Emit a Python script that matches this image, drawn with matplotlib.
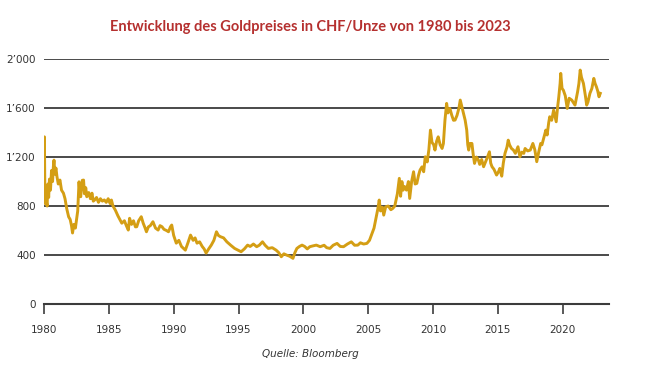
import matplotlib.pyplot as plt
from matplotlib.ticker import FuncFormatter

# Goldpreis CHF/Unze, Werte
years = [
    1980.00, 1980.03, 1980.06, 1980.09, 1980.13, 1980.18, 1980.24, 1980.30, 1980.36, 1980.42,
    1980.50, 1980.58, 1980.66, 1980.72, 1980.77, 1980.84, 1980.92, 1981.00, 1981.10, 1981.23,
    1981.35, 1981.50, 1981.62, 1981.75, 1981.90, 1982.02, 1982.12, 1982.20, 1982.30, 1982.42,
    1982.50, 1982.60, 1982.70, 1982.77, 1982.83, 1982.95, 1983.05, 1983.12, 1983.22, 1983.30,
    1983.45, 1983.58, 1983.70, 1983.80, 1983.90, 1984.05, 1984.20, 1984.35, 1984.50, 1984.65,
    1984.80, 1984.95, 1985.10, 1985.20, 1985.32, 1985.50, 1985.70, 1985.85, 1986.00, 1986.20,
    1986.35, 1986.50, 1986.60, 1986.75, 1986.90, 1987.05, 1987.15, 1987.30, 1987.50, 1987.65,
    1987.80, 1987.90, 1988.05, 1988.20, 1988.40, 1988.60, 1988.80, 1988.95, 1989.10, 1989.25,
    1989.45, 1989.60, 1989.75, 1989.85, 1990.00, 1990.20, 1990.40, 1990.60, 1990.90, 1991.10,
    1991.30, 1991.50, 1991.65, 1991.80, 1992.00, 1992.20, 1992.35, 1992.50, 1992.70, 1992.90,
    1993.10, 1993.30, 1993.45, 1993.60, 1993.85, 1994.10, 1994.40, 1994.70, 1994.95, 1995.20,
    1995.45, 1995.70, 1995.90, 1996.15, 1996.40, 1996.60, 1996.85, 1997.05, 1997.30, 1997.60,
    1997.90, 1998.10, 1998.30, 1998.50, 1998.70, 1998.95, 1999.20, 1999.35, 1999.50, 1999.70,
    1999.90, 2000.10, 2000.30, 2000.50, 2000.75, 2001.00, 2001.30, 2001.60, 2001.80, 2002.05,
    2002.30, 2002.60, 2002.85, 2003.10, 2003.40, 2003.70, 2003.95, 2004.20, 2004.40, 2004.65,
    2004.90, 2005.10, 2005.30, 2005.45, 2005.60, 2005.75, 2005.85, 2005.95, 2006.10, 2006.20,
    2006.35, 2006.55, 2006.75, 2006.90, 2007.05, 2007.25, 2007.40, 2007.50, 2007.60, 2007.70,
    2007.80, 2007.95, 2008.10, 2008.20, 2008.35, 2008.50, 2008.62, 2008.75, 2008.88, 2009.00,
    2009.15, 2009.28, 2009.40, 2009.55, 2009.68, 2009.80, 2009.92, 2010.05, 2010.15, 2010.28,
    2010.40, 2010.55, 2010.70, 2010.80, 2010.92, 2011.05, 2011.15, 2011.30, 2011.45, 2011.58,
    2011.70, 2011.85, 2012.00, 2012.10, 2012.25, 2012.35, 2012.48, 2012.60, 2012.68, 2012.75,
    2012.85, 2013.00, 2013.10, 2013.20, 2013.35, 2013.50, 2013.60, 2013.75, 2013.90, 2014.05,
    2014.20, 2014.35, 2014.45, 2014.55, 2014.70, 2014.90, 2015.05, 2015.15, 2015.30, 2015.42,
    2015.55, 2015.70, 2015.80, 2015.90, 2016.05, 2016.20, 2016.35, 2016.55, 2016.70, 2016.85,
    2017.00, 2017.10, 2017.30, 2017.50, 2017.70, 2017.85, 2018.00, 2018.15, 2018.30, 2018.40,
    2018.55, 2018.70, 2018.80, 2018.92, 2019.00, 2019.15, 2019.30, 2019.50, 2019.60, 2019.70,
    2019.80, 2019.85, 2019.95, 2020.05, 2020.20, 2020.35, 2020.50, 2020.70, 2020.85, 2020.95,
    2021.05, 2021.15, 2021.25, 2021.35, 2021.45, 2021.60, 2021.75, 2021.85, 2021.95, 2022.10,
    2022.25, 2022.40, 2022.50, 2022.60, 2022.70, 2022.80, 2022.90,
]
price_chf = [
    950, 1365, 1000, 820, 960, 840, 800, 980, 870, 1020,
    930, 1090, 1000, 1120, 1175, 1060, 1110, 1040, 980, 1012,
    930, 905, 860, 780, 712, 690, 640, 580, 650, 620,
    685, 760, 998, 900, 876, 1010, 1012, 900, 950, 876,
    910, 860, 905, 840, 849, 870, 830, 860, 840, 850,
    830, 860, 820, 849, 800, 767, 720, 690, 660, 680,
    640, 604, 700, 650, 680, 630, 631, 680, 713, 660,
    620, 590, 630, 640, 672, 620, 604, 640, 631, 610,
    600, 590, 630, 645, 560, 497, 520, 470, 440, 500,
    563, 520, 540, 497, 508, 470, 450, 416, 450, 481,
    520, 590, 560, 550, 540, 508, 480, 454, 440, 427,
    450, 481, 470, 490, 468, 480, 508, 480, 454, 460,
    440, 420, 386, 410, 400, 390, 373, 420, 454, 470,
    481, 470, 450, 468, 475, 481, 468, 480, 460, 454,
    480, 495, 470, 468, 490, 508, 480, 481, 500, 490,
    495, 520, 577, 620, 700, 780, 849, 760, 790, 726,
    794, 800, 770, 781, 800, 900, 1026, 880, 1000, 930,
    960, 930, 1000, 862, 1000, 1080, 980, 985, 1050, 1094,
    1120, 1080, 1202, 1160, 1260, 1420, 1320, 1300, 1257, 1330,
    1365, 1300, 1270, 1310, 1500, 1638, 1560, 1597, 1540, 1500,
    1502, 1540, 1600, 1665, 1600, 1556, 1500, 1420, 1300, 1257,
    1311, 1311, 1220, 1148, 1200, 1175, 1140, 1180, 1121, 1160,
    1200, 1243, 1150, 1121, 1100, 1053, 1080, 1107, 1044, 1150,
    1230, 1280, 1338, 1300, 1270, 1257, 1230, 1284, 1202, 1240,
    1230, 1270, 1250, 1257, 1311, 1260, 1162, 1240, 1311, 1300,
    1360, 1420, 1380, 1480, 1529, 1500, 1583, 1488, 1600, 1692,
    1800, 1883, 1760, 1746, 1700, 1597, 1680, 1665, 1640, 1624,
    1680, 1733, 1800, 1910, 1850, 1801, 1700, 1624, 1650, 1720,
    1760, 1842, 1800, 1774, 1740, 1692, 1720,
]

y_ticks = [0, 400, 800, 1200, 1600, 2000]
x_ticks = [1980, 1985, 1990, 1995, 2000, 2005, 2010, 2015, 2020]

title = 'Entwicklung des Goldpreises in CHF/Unze von 1980 bis 2023'
source = 'Quelle: Bloomberg'

grid_color = '#3c3c3c'
gold = '#d49e14'

fig = plt.figure(figsize=(6.5, 3.81), dpi=100)
ax = fig.add_axes([0.0677, 0.202, 0.869, 0.643])

for v in y_ticks[1:]:
    ax.axhline(v, color=grid_color, linewidth=1.3, zorder=1)

ax.plot(years, price_chf, color=gold, linewidth=2.1, zorder=3)

ax.set_xlim(1980, 2023.56)
ax.set_ylim(0, 2000)
ax.set_xticks(x_ticks)
ax.set_yticks(y_ticks)
ax.yaxis.set_major_formatter(FuncFormatter(lambda v, p: f'{int(v):,}'.replace(',', '\u2019')))

for s in ['left', 'right', 'top']:
    ax.spines[s].set_visible(False)
ax.spines['bottom'].set_color(grid_color)
ax.spines['bottom'].set_linewidth(1.5)
ax.spines['bottom'].set_zorder(2)

ax.tick_params(axis='x', length=7, width=1.2, color=grid_color, labelsize=7.5,
               labelcolor='#333333', pad=8)
ax.tick_params(axis='y', length=0, labelsize=7.5, labelcolor='#333333', pad=6)

fig.text(0.477, 0.928, title, ha='center', va='center', fontsize=10.5,
         fontweight='bold', color='#b5302f', family='Lato')
fig.text(0.477, 0.07, source, ha='center', va='center', fontsize=7.5,
         style='italic', color='#333333')

fig.savefig('out.png', dpi=100)
